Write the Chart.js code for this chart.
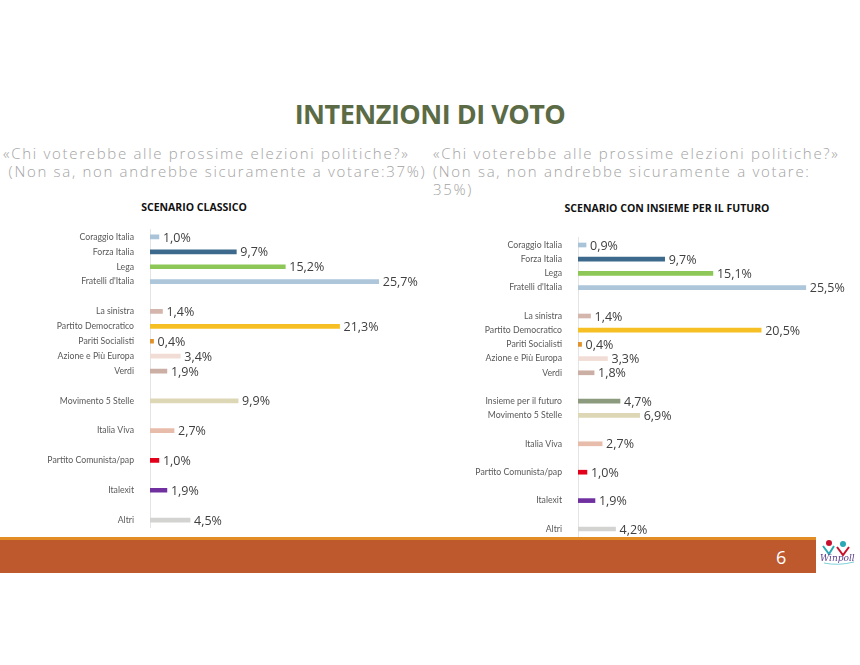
<!DOCTYPE html>
<html>
<head>
<meta charset="utf-8">
<script src="https://cdn.jsdelivr.net/npm/chart.js@4.4.1/dist/chart.umd.min.js"></script>
<style>
  html, body { margin: 0; padding: 0; background: #fff; }
  body { width: 860px; height: 665px; position: relative; overflow: hidden; font-family: "Open Sans", sans-serif; }
  .title { position: absolute; left: 0; width: 860px; top: 95px; text-align: center; font-family: "Open Sans"; font-weight: 700; font-size: 27px; color: #5b6b45; letter-spacing: -0.5px; }
  .sub { position: absolute; color: #a3a3a3; font-family: "Open Sans"; font-weight: 300; font-size: 15px; line-height: 18px; letter-spacing: 1.7px; white-space: nowrap; }
  .ctitle { position: absolute; font-family: "Open Sans"; font-weight: 700; font-size: 10.5px; color: #111; text-align: center; }
  canvas { position: absolute; }
  .orange { position: absolute; left: 0; top: 537px; width: 816px; height: 3px; background: #e38b25; }
  .brown { position: absolute; left: 0; top: 540px; width: 816px; height: 33px; background: #bd592d; }
  .page { position: absolute; left: 776px; top: 545px; color: #fff; font-family: "Open Sans"; font-size: 18px; }
  .logo { position: absolute; left: 818px; top: 538px; }
</style>
</head>
<body>
<div class="title">INTENZIONI DI VOTO</div>
<div class="sub" style="left:3px; top:144px;">«Chi voterebbe alle prossime elezioni politiche?»<br>&nbsp;(Non sa, non andrebbe sicuramente a votare:37%)</div>
<div class="sub" style="left:433px; top:144px;">«Chi voterebbe alle prossime elezioni politiche?»<br>(Non sa, non andrebbe sicuramente a votare:<br>35%)</div>
<div class="ctitle" style="left:94px; width:200px; top:200px;">SCENARIO CLASSICO</div>
<div class="ctitle" style="left:517px; width:300px; top:201px;">SCENARIO CON INSIEME PER IL FUTURO</div>
<canvas id="leftChart" width="430" height="345" style="left:0; top:205px;"></canvas>
<canvas id="rightChart" width="430" height="355" style="left:430px; top:205px;"></canvas>
<div class="orange"></div>
<div class="brown"></div>
<div class="page">6</div>
<svg class="logo" width="40" height="28" viewBox="0 0 40 28">
  <circle cx="11" cy="5" r="3" fill="#c8102e"/>
  <circle cx="25" cy="6" r="3" fill="#2aa8b5"/>
  <path d="M5 8 L11 16 L16 8" stroke="#2aa8b5" stroke-width="2" fill="none"/>
  <path d="M19 9 L25 17 L31 9" stroke="#c8102e" stroke-width="2" fill="none"/>
  <text x="2" y="23" font-family="DejaVu Serif" font-style="italic" font-size="9" fill="#5a3c8c">Winpoll</text>
  <path d="M6 25 Q20 28 36 24" stroke="#7fd0d8" stroke-width="1" fill="none"/>
</svg>
<script>
// scenario classico
const leftLabels = ['Coraggio Italia', 'Forza Italia', 'Lega', "Fratelli d'Italia", '',
  'La sinistra', 'Partito Democratico', 'Pariti Socialisti', 'Azione e Più Europa', 'Verdi', '',
  'Movimento 5 Stelle', '', 'Italia Viva', '', 'Partito Comunista/pap', '', 'Italexit', '', 'Altri'];
const leftValues = [1.0, 9.7, 15.2, 25.7, null,
  1.4, 21.3, 0.4, 3.4, 1.9, null,
  9.9, null, 2.7, null, 1.0, null, 1.9, null, 4.5];

// scenario con insieme per il futuro
const rightLabels = ['Coraggio Italia', 'Forza Italia', 'Lega', "Fratelli d'Italia", '',
  'La sinistra', 'Partito Democratico', 'Pariti Socialisti', 'Azione e Più Europa', 'Verdi', '',
  'Insieme per il futuro', 'Movimento 5 Stelle', '', 'Italia Viva', '', 'Partito Comunista/pap', '', 'Italexit', '', 'Altri'];
const rightValues = [0.9, 9.7, 15.1, 25.5, null,
  1.4, 20.5, 0.4, 3.3, 1.8, null,
  4.7, 6.9, null, 2.7, null, 1.0, null, 1.9, null, 4.2];

const partyColors = {
  'Coraggio Italia': '#a9c3d8',
  'Forza Italia': '#3d6a8c',
  'Lega': '#8dc757',
  "Fratelli d'Italia": '#adc6da',
  'La sinistra': '#d4b6ad',
  'Partito Democratico': '#f6c024',
  'Pariti Socialisti': '#e2922b',
  'Azione e Più Europa': '#f2ddd6',
  'Verdi': '#cbaea4',
  'Insieme per il futuro': '#8c9a7e',
  'Movimento 5 Stelle': '#ddd7b6',
  'Italia Viva': '#e8bcaa',
  'Partito Comunista/pap': '#e2001a',
  'Italexit': '#7030a0',
  'Altri': '#d3d3d1'
};

const valueLabels = {
  id: 'valueLabels',
  afterDatasetsDraw(chart) {
    const ctx = chart.ctx;
    const meta = chart.getDatasetMeta(0);
    const data = chart.data.datasets[0].data;
    ctx.save();
    ctx.font = '12.5px "Open Sans"';
    ctx.fillStyle = '#404040';
    ctx.textBaseline = 'middle';
    ctx.textAlign = 'left';
    meta.data.forEach((bar, i) => {
      if (data[i] == null) return;
      const txt = data[i].toFixed(1).replace('.', ',') + '%';
      ctx.fillText(txt, bar.x + 4, bar.y + 1);
    });
    ctx.restore();
  }
};

function makeChart(id, labels, values, axisWidth, pad) {
  return new Chart(document.getElementById(id), {
    type: 'bar',
    data: {
      labels: labels,
      datasets: [{
        data: values,
        backgroundColor: labels.map(l => partyColors[l] || '#ccc'),
        barThickness: 4
      }]
    },
    options: {
      indexAxis: 'y',
      responsive: false,
      animation: false,
      layout: { padding: pad },
      plugins: { legend: { display: false }, tooltip: { enabled: false } },
      scales: {
        x: { display: false, min: 0, max: 30 },
        y: {
          grid: { display: false },
          border: { display: true, color: '#e4e4e4', width: 1 },
          ticks: { color: '#595959', font: { family: 'Lato', size: 8.7 }, padding: 8, autoSkip: false },
          afterFit(scale) { scale.width = axisWidth; }
        }
      }
    },
    plugins: [valueLabels]
  });
}

// chart area: left 229.5..527.5, right 237.9..536.1 (page coords)
makeChart('leftChart', leftLabels, leftValues, 150, { top: 24.5, bottom: 22.5, left: 0, right: 13 });
makeChart('rightChart', rightLabels, rightValues, 148, { top: 32.9, bottom: 23.9, left: 0, right: 14 });
</script>
</body>
</html>
